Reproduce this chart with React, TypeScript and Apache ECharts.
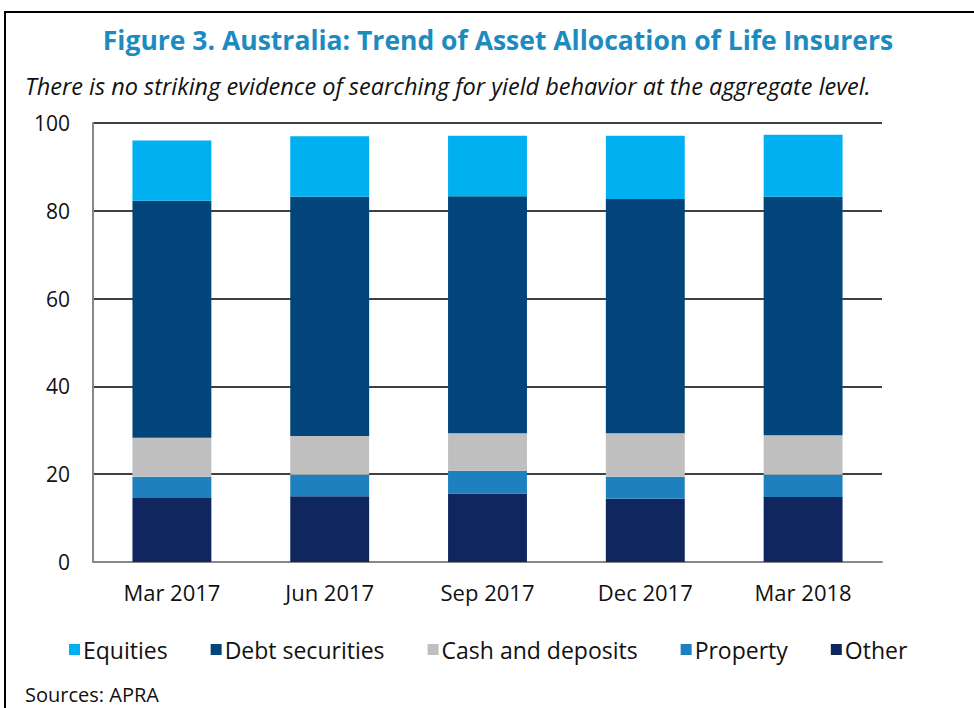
import React, { useEffect, useRef } from "react";
import * as echarts from "echarts";

const categories = ["Mar 2017", "Jun 2017", "Sep 2017", "Dec 2017", "Mar 2018"];
const other = [14.6, 15.0, 15.6, 14.4, 14.8];
const property = [4.8, 4.9, 5.2, 5.0, 5.1];
const cash = [8.9, 8.8, 8.5, 9.9, 9.0];
const debt = [54.0, 54.5, 54.0, 53.4, 54.3];
const equities = [13.7, 13.8, 13.8, 14.4, 14.1];
const yTicks = [0, 20, 40, 60, 80, 100];

const titleText = "Figure 3. Australia: Trend of Asset Allocation of Life Insurers";
const subtitleText = "There is no striking evidence of searching for yield behavior at the aggregate level.";
const sourceText = "Sources: APRA";

const FONT = "'Open Sans', 'Noto Sans', sans-serif";

export default function App() {
  const ref = useRef<HTMLDivElement>(null);
  useEffect(() => {
    if (!ref.current) return;
    const chart = echarts.init(ref.current, null, { renderer: "svg" });
    const mk = (name: string, data: number[], color: string) => ({
      name,
      type: "bar",
      stack: "total",
      data,
      barWidth: "50%",
      itemStyle: { color },
      emphasis: { disabled: true },
    });
    chart.setOption({
      animation: false,
      backgroundColor: "#ffffff",
      textStyle: { fontFamily: FONT },
      graphic: [
        {
          type: "rect",
          shape: { x: 5, y: 12, width: 1200, height: 1200 },
          style: { fill: "none", stroke: "#000", lineWidth: 2 },
          silent: true,
        },
        {
          type: "text",
          x: 498,
          y: 40,
          style: {
            text: titleText,
            fill: "#1C8BC0",
            font: `bold 26.5px ${FONT}`,
            textAlign: "center",
            textVerticalAlign: "middle",
          },
        },
        {
          type: "text",
          x: 25,
          y: 86,
          style: {
            text: subtitleText,
            fill: "#111",
            font: `italic 23.5px ${FONT}`,
            textAlign: "left",
            textVerticalAlign: "middle",
          },
        },
        {
          type: "text",
          x: 25,
          y: 694,
          style: {
            text: sourceText,
            fill: "#111",
            font: `20px ${FONT}`,
            textAlign: "left",
            textVerticalAlign: "middle",
          },
        },
      ],
      legend: {
        data: ["Equities", "Debt securities", "Cash and deposits", "Property", "Other"],
        left: 64,
        top: 633,
        icon: "rect",
        itemWidth: 11,
        itemHeight: 11,
        itemGap: 43,
        textStyle: { fontSize: 23, color: "#111", fontFamily: FONT, padding: [0, 0, 0, -2] },
        selectedMode: false,
      },
      grid: { left: 93, right: 92, top: 123, bottom: 146 },
      xAxis: {
        type: "category",
        data: categories,
        boundaryGap: true,
        axisLine: { lineStyle: { color: "#888", width: 2 } },
        axisTick: { inside: true, length: 6, lineStyle: { color: "#888", width: 2 } },
        axisLabel: { fontSize: 22, color: "#111", margin: 19, fontFamily: FONT },
      },
      yAxis: {
        type: "value",
        min: 0,
        max: 100,
        interval: 20,
        axisLine: { show: true, lineStyle: { color: "#888", width: 2 } },
        axisTick: { show: false },
        axisLabel: {
          fontSize: 21,
          color: "#111",
          margin: 23,
          fontFamily: FONT,
          formatter: (v: number) => (yTicks.includes(v) ? String(v) : ""),
        },
        splitLine: { lineStyle: { color: "#000", width: 1.5 } },
      },
      series: [
        mk("Other", other, "#10265F"),
        mk("Property", property, "#1F80C0"),
        mk("Cash and deposits", cash, "#BFBFBF"),
        mk("Debt securities", debt, "#03457A"),
        mk("Equities", equities, "#00B0F0"),
      ],
    });
    return () => chart.dispose();
  }, []);
  return (
    <div
      ref={ref}
      style={{ position: "absolute", left: 0, top: 0, width: 974, height: 708 }}
    />
  );
}
